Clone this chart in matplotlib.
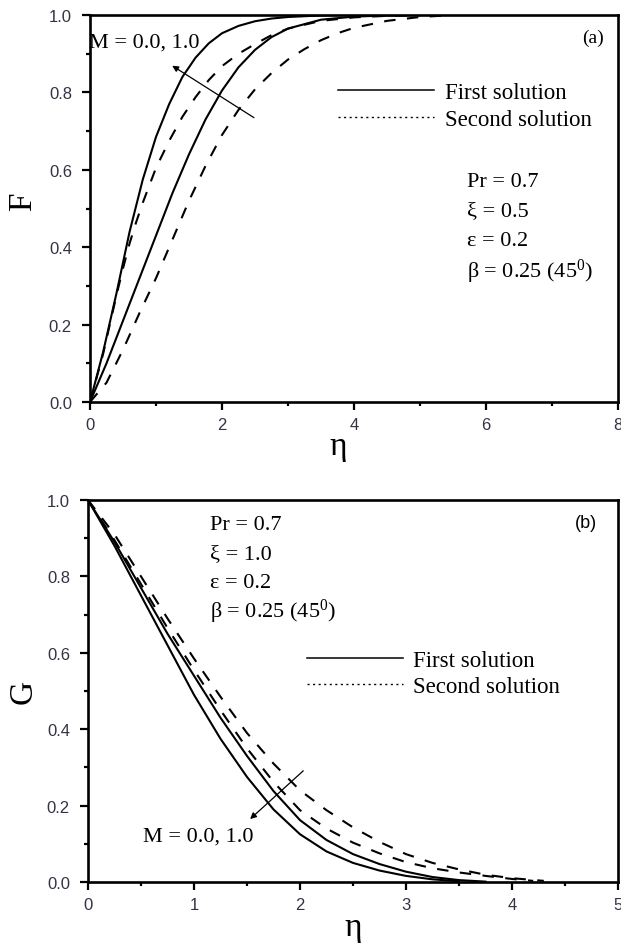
import matplotlib
matplotlib.use("Agg")
import matplotlib.pyplot as plt
from matplotlib.lines import Line2D
from matplotlib.ticker import MultipleLocator

plt.rcParams['font.family'] = 'Liberation Serif'
plt.rcParams['mathtext.fontset'] = 'custom'
plt.rcParams['mathtext.rm'] = 'Liberation Serif'
plt.rcParams['mathtext.it'] = 'Liberation Serif:italic'

######################################################################
# data

# (a) velocity F(eta)
eta_f1 = [0, 0.2, 0.4, 0.6, 0.8, 1.0, 1.2, 1.4, 1.6, 1.8, 2.0, 2.25, 2.5, 2.75, 3.0, 3.5, 4.0, 5.0]
F_first_m0 = [0, 0.13, 0.28, 0.44, 0.575, 0.685, 0.77, 0.84, 0.89, 0.927, 0.953, 0.972, 0.984, 0.991,
              0.995, 0.999, 1.0, 1.0]

eta_f2 = [0, 0.25, 0.5, 0.75, 1.0, 1.25, 1.5, 1.75, 2.0, 2.25, 2.5, 2.75, 3.0, 3.5, 4.0, 4.5, 5.0]
F_first_m1 = [0, 0.1, 0.21, 0.32, 0.43, 0.54, 0.64, 0.73, 0.805, 0.865, 0.91, 0.943, 0.965, 0.988, 0.996,
              0.999, 1.0]

eta_f3 = [0, 0.2, 0.4, 0.5, 0.6, 0.7, 0.8, 1.0, 1.2, 1.4, 1.6, 1.8, 2.0, 2.25, 2.5, 2.75, 3.0, 3.5, 4.0,
          4.5, 5.0]
F_second_m0 = [0, 0.125, 0.275, 0.345, 0.41, 0.465, 0.515, 0.605, 0.675, 0.737, 0.788, 0.832, 0.868, 0.9,
               0.925, 0.948, 0.965, 0.985, 0.994, 0.998, 1.0]

eta_f4 = [0, 0.25, 0.5, 0.75, 1.0, 1.25, 1.5, 1.75, 2.0, 2.25, 2.5, 2.75, 3.0, 3.25, 3.5, 3.75, 4.0, 4.5,
          5.0, 5.4]
F_second_m1 = [0, 0.05, 0.135, 0.23, 0.32, 0.42, 0.52, 0.61, 0.69, 0.755, 0.808, 0.85, 0.885, 0.912, 0.935,
               0.953, 0.967, 0.985, 0.995, 0.999]

# (b) temperature G(eta)
eta_g1 = [0, 0.25, 0.5, 0.75, 1.0, 1.25, 1.5, 1.75, 2.0, 2.25, 2.5, 2.75, 3.0, 3.25, 3.5]
G_first_m0 = [1, 0.88, 0.75, 0.62, 0.49, 0.375, 0.275, 0.19, 0.125, 0.08, 0.05, 0.03, 0.016, 0.007, 0.002]

eta_g2 = [0, 0.25, 0.5, 0.75, 1.0, 1.25, 1.5, 1.75, 2.0, 2.25, 2.5, 2.75, 3.0, 3.25, 3.5, 3.75]
G_first_m1 = [1, 0.89, 0.77, 0.65, 0.54, 0.43, 0.33, 0.238, 0.162, 0.11, 0.073, 0.047, 0.027, 0.013, 0.005,
              0.001]

eta_g3 = [0, 0.25, 0.5, 0.75, 1.0, 1.25, 1.5, 1.75, 2.0, 2.25, 2.5, 2.75, 3.0, 3.25, 3.5, 3.75, 4.0, 4.2]
G_second_m0 = [1, 0.895, 0.78, 0.665, 0.555, 0.45, 0.35, 0.262, 0.188, 0.14, 0.103, 0.075, 0.052, 0.036,
               0.025, 0.016, 0.008, 0.003]

eta_g4 = [0, 0.25, 0.5, 0.75, 1.0, 1.25, 1.5, 1.75, 2.0, 2.25, 2.5, 2.75, 3.0, 3.25, 3.5, 3.75, 4.0, 4.3]
G_second_m1 = [1, 0.91, 0.80, 0.69, 0.585, 0.485, 0.39, 0.31, 0.24, 0.188, 0.143, 0.105, 0.073, 0.05, 0.033,
               0.019, 0.01, 0.003]

params_a = ["Pr = 0.7", "ξ = 0.5", "ε = 0.2", "β = 0.25 (45$^{0}$)"]
params_b = ["Pr = 0.7", "ξ = 1.0", "ε = 0.2", "β = 0.25 (45$^{0}$)"]
legend_labels = ["First solution", "Second solution"]

######################################################################

DASH = (0, (5.5, 5.5))


def style_axes(ax, xmax, xmajor, xminor):
    ax.set_xlim(0, xmax)
    ax.set_ylim(0, 1.0)
    ax.xaxis.set_major_locator(MultipleLocator(xmajor))
    ax.xaxis.set_minor_locator(MultipleLocator(xminor))
    ax.yaxis.set_major_locator(MultipleLocator(0.2))
    ax.yaxis.set_minor_locator(MultipleLocator(0.1))
    ax.yaxis.set_major_formatter(plt.FormatStrFormatter('%.1f'))
    for s in ax.spines.values():
        s.set_linewidth(1.9)
    ax.tick_params(which='major', direction='out', length=6, width=1.6)
    ax.tick_params(which='minor', direction='out', length=3, width=1.6)
    ax.tick_params(axis='y', pad=7)
    ax.tick_params(axis='x', pad=5)
    for lab in ax.get_xticklabels() + ax.get_yticklabels():
        lab.set_fontfamily('Liberation Sans')
        lab.set_fontsize(12)
        lab.set_color('#333344')


def add_legend(ax, anchor):
    handles = [Line2D([], [], color='black', lw=1.1),
               Line2D([], [], color='black', lw=1.0, linestyle=(0, (1.5, 2.5)))]
    leg = ax.legend(handles, legend_labels, loc='center left', bbox_to_anchor=anchor,
                    frameon=False, fontsize=16.5, handlelength=4.2, handletextpad=0.45,
                    labelspacing=0.25, borderpad=0, borderaxespad=0)
    return leg


fig = plt.figure(figsize=(6.21, 9.45), dpi=100)
ax1 = fig.add_axes([0.1449, 0.5735, 0.8502, 0.4095])
ax2 = fig.add_axes([0.1417, 0.0656, 0.8535, 0.4042])

# ---------------- (a)
ax1.plot(eta_f1, F_first_m0, color='black', lw=1.5)
ax1.plot(eta_f2, F_first_m1, color='black', lw=1.5)
ax1.plot(eta_f3, F_second_m0, color='black', lw=1.5, linestyle=DASH)
ax1.plot(eta_f4, F_second_m1, color='black', lw=1.5, linestyle=DASH)
style_axes(ax1, 8, 2, 1)
ax1.set_xlabel("η", fontsize=24, va='center')
ax1.xaxis.set_label_coords(0.47, -0.114)
ax1.set_ylabel("F", fontsize=24, va='center')
ax1.yaxis.set_label_coords(-0.127, 0.52)

ax1.annotate('', xy=(1.21, 0.873), xytext=(2.52, 0.731),
             arrowprops=dict(arrowstyle='-|>', lw=0.9, color='black', mutation_scale=9))
ax1.text(-0.02, 0.93, "M = 0.0, 1.0", fontsize=16, ha='left', va='center')
ax1.text(0.953, 0.943, "(a)", fontsize=14, ha='center', va='center', transform=ax1.transAxes)
for i, p in enumerate(params_a):
    ax1.text(0.714, 0.571 - i * 0.077, p, fontsize=16, ha='left', va='center', transform=ax1.transAxes)
add_legend(ax1, (0.47, 0.765))

# ---------------- (b)
ax2.plot(eta_g1, G_first_m0, color='black', lw=1.5)
ax2.plot(eta_g2, G_first_m1, color='black', lw=1.5)
ax2.plot(eta_g3, G_second_m0, color='black', lw=1.5, linestyle=DASH)
ax2.plot(eta_g4, G_second_m1, color='black', lw=1.5, linestyle=DASH)
style_axes(ax2, 5, 1, 0.5)
ax2.set_xlabel("η", fontsize=24, va='center')
ax2.xaxis.set_label_coords(0.5, -0.118)
ax2.set_ylabel("G", fontsize=24, va='center')
ax2.yaxis.set_label_coords(-0.121, 0.5)

ax2.annotate('', xy=(1.51, 0.16), xytext=(2.05, 0.296),
             arrowprops=dict(arrowstyle='-|>', lw=0.9, color='black', mutation_scale=9))
ax2.text(0.52, 0.12, "M = 0.0, 1.0", fontsize=16, ha='left', va='center')
ax2.text(0.94, 0.942, "(b)", fontsize=13, ha='center', va='center', family='Liberation Sans',
         transform=ax2.transAxes)
for i, p in enumerate(params_b):
    ax2.text(0.230, 0.937 - i * 0.076, p, fontsize=16, ha='left', va='center', transform=ax2.transAxes)
add_legend(ax2, (0.413, 0.546))

fig.savefig("out.png", dpi=100)
